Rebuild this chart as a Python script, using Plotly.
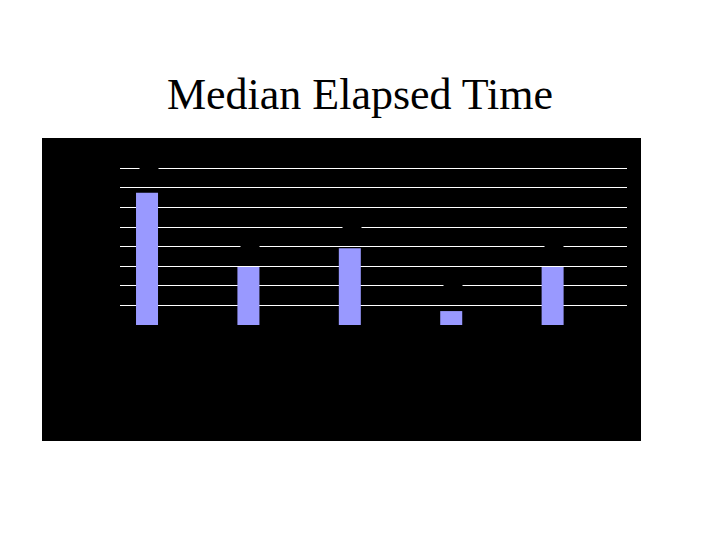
import plotly.graph_objects as go

categories = ["Query 1", "Query 2", "Query 3", "Query 4", "Query 5"]
median_time = [6.75, 2.96, 3.92, 0.71, 2.96]
y_ticks = [1, 2, 3, 4, 5, 6, 7, 8]

W, H = 720, 540
OFF = 8  # page offset
L, R, T, B = 42 - OFF, 79 + OFF, 138 - OFF, 99 + OFF
pw, ph = W - L - R, H - T - B

def px_x(x):
    return x - OFF

def px_y(y):
    return y - OFF

fig = go.Figure()
fig.add_trace(go.Bar(
    x=categories, y=median_time,
    marker=dict(color="#9999FF", line=dict(width=0)),
    width=0.217, offset=-0.342,
    showlegend=False, hoverinfo="x+y",
))

for c, v in zip(categories, median_time):
    fig.add_annotation(
        x=c, y=v, xref="x", yref="y", text=f"{v:.2f}",
        showarrow=False, xshift=-22, yshift=24,
        font=dict(family="Liberation Serif", size=9, color="#000000"),
        bgcolor="#000000",
    )

fig.add_shape(type="rect", xref="paper", yref="paper", x0=0, x1=1, y0=0, y1=1,
              fillcolor="#000000", line=dict(width=0), layer="below")

fig.update_layout(
    width=W, height=H,
    margin=dict(l=L, r=R, t=T, b=B, pad=0),
    paper_bgcolor="#FFFFFF", plot_bgcolor="#000000",
    title=dict(text="Median Elapsed Time", x=(360 - OFF) / W, xanchor="center",
               y=1 - px_y(94) / H, yanchor="middle", yref="container",
               font=dict(family="Liberation Serif", size=44, color="#000000")),
    xaxis=dict(domain=[(px_x(120) - L) / pw, (px_x(627) - L) / pw], range=[-0.5, 4.5],
               showgrid=False, zeroline=False, showline=False,
               tickfont=dict(family="Liberation Serif", size=10, color="#000000")),
    yaxis=dict(domain=[(H - B - px_y(325)) / ph, (H - B - px_y(155)) / ph],
               range=[0, (325 - 155) / 19.6],
               tickvals=y_ticks, showgrid=True, gridcolor="#FFFFFF", gridwidth=1,
               zeroline=False, showline=False,
               tickfont=dict(family="Liberation Serif", size=10, color="#000000")),
    font=dict(family="Liberation Serif"),
)

fig.write_html("out.html")
